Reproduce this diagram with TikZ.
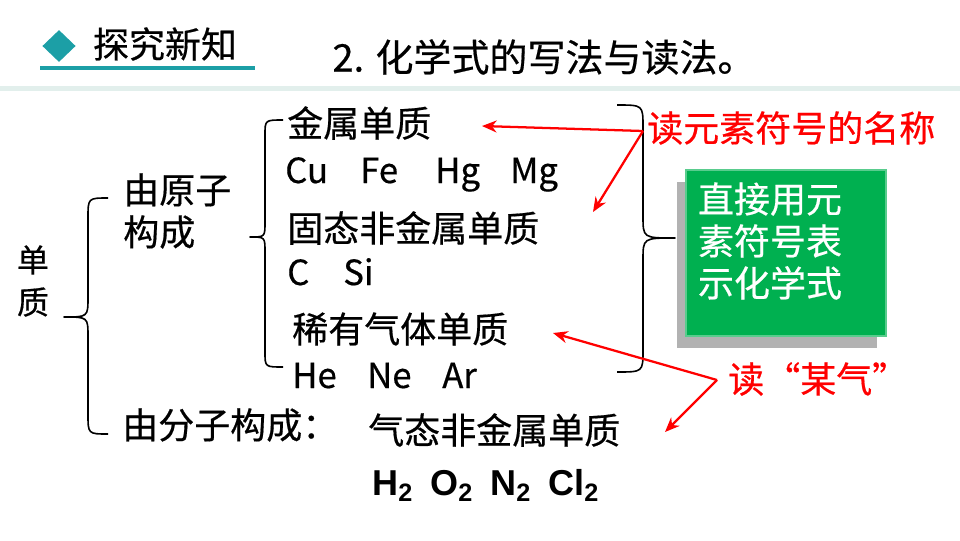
\documentclass[tikz,border=0pt]{standalone}
\usepackage{fontspec}
\setmainfont{Noto Sans CJK SC}[FakeBold=0.5]
\newfontfamily\formulafont{Liberation Sans}
\usetikzlibrary{shapes.geometric,shadows,arrows.meta}

\definecolor{tealmark}{HTML}{1C9FA6}
\definecolor{bandgray}{HTML}{E2EFEC}
\definecolor{boxgreen}{HTML}{00B050}
\definecolor{redmark}{HTML}{FF0000}

\tikzset{
  txt/.style={font=\fontsize{27}{31.5}\selectfont, inner sep=0pt, align=left},
  sym/.style={font=\fontsize{26}{30}\selectfont, inner sep=0pt, anchor=base west},
  redtxt/.style={txt, text=redmark},
  redarrow/.style={draw=redmark, line width=1.7pt, -{Stealth[length=11pt,width=9pt]}},
  curly/.style={line width=1.2pt, line join=round},
  greenbox/.style={fill=boxgreen, draw=boxgreen!65!white, line width=1.5pt,
    minimum width=150pt, minimum height=124.5pt, inner sep=0pt,
    drop shadow={shadow xshift=-7pt, shadow yshift=-9pt, fill=black, opacity=0.3}},
}

\begin{document}
\begin{tikzpicture}[x=0.75pt,y=-0.75pt]
  \useasboundingbox (0,0) rectangle (960,540);

  % Header
  \node[diamond, fill=tealmark, minimum width=25pt, minimum height=24pt, inner sep=0pt] (mark) at (59,46) {};
  \node[txt] (tanjiu) at (165,44) {探究新知};
  \draw[tealmark, line width=2.3pt] (40,68) -- (255,68);
  \node[txt, font=\fontsize{28.5}{30}\selectfont] (title) at (544,57) {2. 化学式的写法与读法。};
  \fill[bandgray] (0,86) rectangle (960,91);

  % Left side
  \node[txt, font=\fontsize{24}{31.5}\selectfont, align=center] (danzhi) at (33,281) {单\\质};
  \node[txt, anchor=west] (yuanzi) at (123,211) {由原子\\构成};
  \node[txt, anchor=west] (fenzi) at (122,425) {由分子构成：};

  % Braces
  \draw[curly] (108,198) .. controls (88,198) .. (88,218) -- (88,297)
    .. controls (88,317) .. (64,317) .. controls (88,317) .. (88,337)
    -- (88,414) .. controls (88,434) .. (108,434);
  \draw[curly] (283,120) .. controls (265,120) .. (265,135) -- (265,222)
    .. controls (265,237) .. (250,237) .. controls (265,237) .. (265,252)
    -- (265,352) .. controls (265,367) .. (283,367);
  \draw[curly] (617,105) .. controls (643,105) .. (643,127) -- (643,216)
    .. controls (643,238) .. (675,238) .. controls (643,238) .. (643,260)
    -- (643,350) .. controls (643,372) .. (617,372);

  % Groups
  \node[txt, anchor=west] (jinshu) at (287,123) {金属单质};
  \foreach \s/\x in {Cu/285,Fe/360,Hg/435,Mg/510}
    \node[sym] (\s) at (\x,183) {\s};
  \node[txt, anchor=west] (gutai) at (287,228) {固态非金属单质};
  \foreach \s/\x in {C/287,Si/343}
    \node[sym] (\s) at (\x,285) {\s};
  \node[txt, anchor=west] (xiyou) at (292,329) {稀有气体单质};
  \foreach \s/\x in {He/292,Ne/367,Ar/442}
    \node[sym] (\s) at (\x,388) {\s};
  \node[txt, anchor=west] (qitai) at (368,430) {气态非金属单质};
  \node[inner sep=0pt, anchor=base west, font=\formulafont\fontsize{27}{30}\bfseries] (formula) at (372,495)
    {H\textsubscript{2}\hspace{13pt}O\textsubscript{2}\hspace{13pt}N\textsubscript{2}\hspace{13pt}Cl\textsubscript{2}};

  % Green box
  \node[greenbox] (box) at (786,253) {};
  \node[txt, text=white] (boxtext) at (770,241) {直接用元\\素符号表\\示化学式};

  % Red notes
  \node[redtxt, anchor=west] (du1) at (647,128) {读元素符号的名称};
  \node[redtxt, anchor=west] (du2) at (728,379) {读“某气”};
  \coordinate (r1) at (643,131);
  \coordinate (t1) at (482,126);
  \coordinate (t2) at (593,212);
  \coordinate (r2) at (717,380);
  \coordinate (t3) at (553,333);
  \coordinate (t4) at (665,432);
  \draw[redarrow] (r1) -- (t1);
  \draw[redarrow] (r1) -- (t2);
  \draw[redarrow] (r2) -- (t3);
  \draw[redarrow] (r2) -- (t4);
\end{tikzpicture}
\end{document}
